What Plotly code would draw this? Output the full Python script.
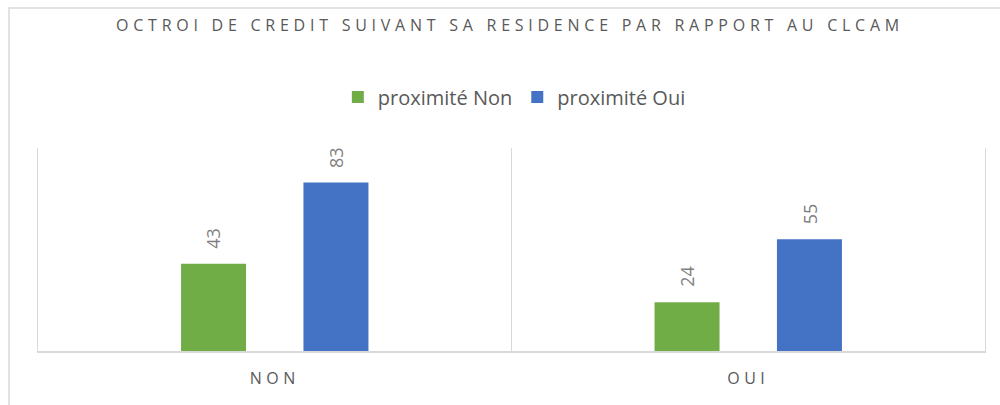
import plotly.graph_objects as go

categories = ["NON", "OUI"]
series_names = ["proximité Non", "proximité Oui"]
values_non = [43, 24]
values_oui = [83, 55]
colors = ["#70AD47", "#4472C4"]
title_text = "OCTROI DE CREDIT SUIVANT SA RESIDENCE PAR RAPPORT AU CLCAM"

FONT = "Open Sans"
xpos = list(range(len(categories)))
bargap = 0.483
bargroupgap = 0.469
slot = (1 - bargap) / 2

fig = go.Figure()
for name, vals, col in zip(series_names, [values_non, values_oui], colors):
    fig.add_trace(go.Bar(x=xpos, y=vals, name=name, marker=dict(color=col, line=dict(width=0)),
                         hoverinfo="skip"))

annotations = []
for k, vals in enumerate([values_non, values_oui]):
    off = (k - 0.5) * slot
    for i, v in enumerate(vals):
        annotations.append(dict(x=xpos[i] + off, y=v, xref="x", yref="y", text=str(v),
                                showarrow=False, textangle=-90, yanchor="bottom", xanchor="center",
                                yshift=13, font=dict(family=FONT, size=18, color="#7F7F7F")))

fig.update_layout(
    width=1000, height=405,
    margin=dict(l=38, r=15, t=148, b=54),
    paper_bgcolor="white", plot_bgcolor="white",
    barmode="group", bargap=bargap, bargroupgap=bargroupgap,
    title=dict(text=title_text, x=0.51, xanchor="center", y=1 - 25 / 405, yanchor="middle",
               font=dict(family=FONT, size=16, color="#595959")),
    legend=dict(orientation="h", x=0.503, xanchor="center", y=1.251, yanchor="middle",
                font=dict(family=FONT, size=20, color="#595959"), bgcolor="rgba(0,0,0,0)"),
    xaxis=dict(range=[-0.5, 1.5], tickvals=xpos, ticktext=categories, showgrid=False,
               zeroline=False, showline=True, linecolor="#D9D9D9", linewidth=1.5,
               ticks="outside", ticklen=12, tickcolor="rgba(0,0,0,0)",
               tickfont=dict(family=FONT, size=16, color="#595959"),
               minor=dict(tickvals=[0.5], showgrid=True, gridcolor="#D9D9D9",
                          gridwidth=1, ticks="")),
    yaxis=dict(range=[0, 100], showgrid=False, zeroline=False, showticklabels=False,
               showline=True, mirror=True, linecolor="#D9D9D9", linewidth=1),
    annotations=annotations,
    shapes=[dict(type="rect", xref="paper", yref="paper",
                 x0=(9 - 38) / 947, x1=(1010 - 38) / 947,
                 y0=(351 - 420) / 203, y1=(351 - 8) / 203,
                 line=dict(color="#D9D9D9", width=1.5), fillcolor="rgba(0,0,0,0)", layer="below")],
)

post = """
document.body.style.margin='0';
var t=document.querySelectorAll('.gtitle'); t.forEach(function(e){e.style.letterSpacing='4.75px';});
var x=document.querySelectorAll('.xtick text'); x.forEach(function(e){e.style.letterSpacing='4.5px';});
"""
fig.write_html("out.html", post_script=post, config={"displayModeBar": False})
